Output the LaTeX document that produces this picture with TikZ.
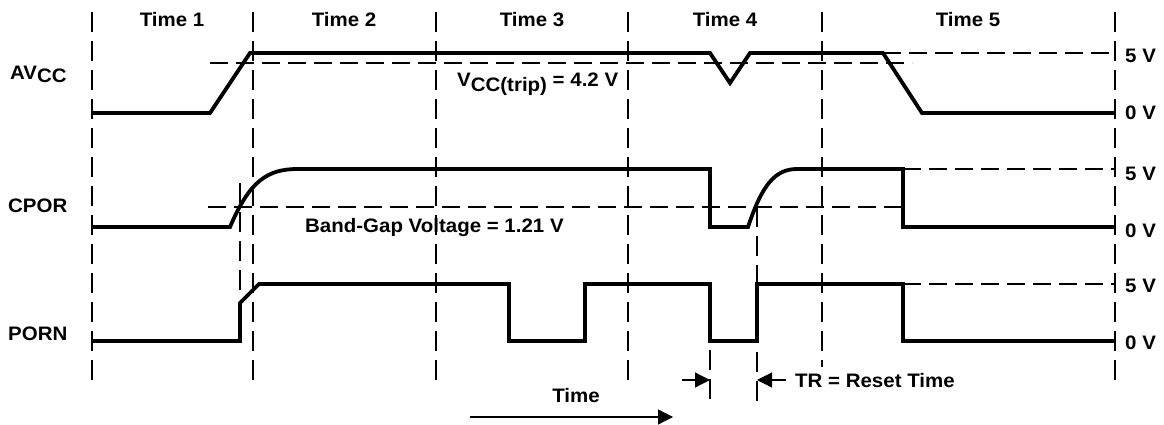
\documentclass[tikz,border=0pt]{standalone}
\usepackage{fontspec}
\setmainfont[FakeStretch=1.05]{Liberation Sans}
\usetikzlibrary{arrows.meta}
\begin{document}
\begin{tikzpicture}[x=1pt,y=-1pt,
  sig/.style={line width=3.8pt, line join=miter, line cap=butt},
  gridline/.style={line width=1.1pt, dash pattern=on 20pt off 9pt},
  refline/.style={line width=1.2pt, dash pattern=on 18pt off 8pt},
  lbl/.style={font=\fontsize{19.5}{22}\selectfont\bfseries, inner sep=0pt, anchor=base},
  lblw/.style={lbl, anchor=base west},
  arr/.style={line width=1.2pt, -{Triangle[length=15pt,width=15pt]}}]
\useasboundingbox (0,0) rectangle (1164,425);
% vertical time-boundary lines
\foreach \x in {92,253,436,628,1115} \draw[gridline] (\x,12) -- (\x,380);
\draw[gridline] (822,12) -- (822,367);
\draw[gridline] (240,183) -- (240,292);
\draw[gridline] (757,207) -- (757,402);
\draw[gridline] (710,350) -- (710,408);
% reference levels
\draw[refline] (883,53) -- (1115,53);
\draw[refline] (210,63) -- (912,63);
\draw[refline] (208,207) -- (903,207);
\draw[refline] (903,169) -- (1115,169);
\draw[refline] (903,284) -- (1115,284);
% signals
\draw[sig] (92,113) -- (210,113) -- (250,53) -- (710,53) -- (730,83) -- (750,53) -- (883,53) -- (922,113) -- (1115,113);
\draw[sig] (92,227) -- (230,227) .. controls (250,180) and (268,169) .. (298,169) -- (710,169) -- (710,227) -- (748,227)
  .. controls (762,185) and (775,169) .. (797,169) -- (903,169) -- (903,227) -- (1115,227);
\draw[sig] (92,341) -- (240,341) -- (240,303) -- (259,284) -- (509,284) -- (509,341) -- (585,341) -- (585,284)
  -- (710,284) -- (710,341) -- (757,341) -- (757,284) -- (903,284) -- (903,341) -- (1115,341);
% time labels
\node[lbl] (t1) at (172,27) {Time 1};
\node[lbl] (t2) at (344,27) {Time 2};
\node[lbl] (t3) at (532,27) {Time 3};
\node[lbl] (t4) at (725,27) {Time 4};
\node[lbl] (t5) at (968,27) {Time 5};
% signal names
\node[lblw] (avcc) at (10,80) {AV\raisebox{-3pt}{CC}};
\node[lblw] (cpor) at (8,212) {CPOR};
\node[lblw] (porn) at (8,340) {PORN};
% levels
\node[lblw] (a5) at (1125,63) {5 V};
\node[lblw] (a0) at (1125,120) {0 V};
\node[lblw] (c5) at (1125,180) {5 V};
\node[lblw] (c0) at (1125,237) {0 V};
\node[lblw] (p5) at (1125,292) {5 V};
\node[lblw] (p0) at (1125,349) {0 V};
% annotations
\node[lblw] (trip) at (457,87) {V\raisebox{-5pt}{CC(trip)} = 4.2 V};
\node[lblw] (bg) at (305,232) {Band-Gap Voltage = 1.21 V};
\node[lbl] (timelbl) at (576,402) {Time};
\node[lblw] (tr) at (795,387) {TR = Reset Time};
% arrows
\coordinate (ta) at (470,417);
\coordinate (tb) at (673,417);
\draw[arr] (ta) -- (tb);
\coordinate (l1) at (682,380);
\coordinate (l2) at (710,380);
\draw[arr] (l1) -- (l2);
\coordinate (r1) at (786,380);
\coordinate (r2) at (757,380);
\draw[arr] (r1) -- (r2);
\end{tikzpicture}
\end{document}
